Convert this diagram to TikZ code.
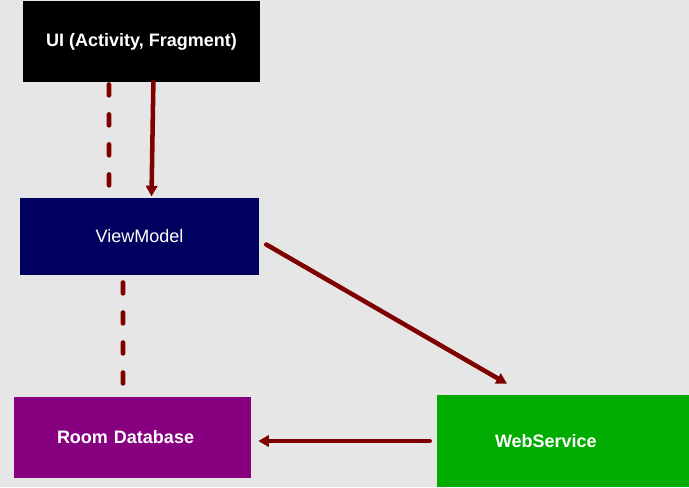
\documentclass[tikz,border=0pt]{standalone}
\usepackage{fontspec}
\setmainfont{Liberation Sans}
\usetikzlibrary{arrows.meta,calc}

\definecolor{bggray}{RGB}{230,230,230}
\definecolor{arrowred}{RGB}{128,0,0}
\definecolor{vmblue}{RGB}{0,0,94}
\definecolor{roompurple}{RGB}{134,0,128}
\definecolor{wsgreen}{RGB}{0,172,0}

\begin{document}
\begin{tikzpicture}[x=0.75pt,y=-0.75pt,
        >={Triangle[length=8pt,width=8.5pt]},
        box/.style={rectangle,text=white,font=\fontsize{13.5}{16}\selectfont},
        flow/.style={->,draw=arrowred,line width=3.4pt,line cap=round},
        link/.style={draw=arrowred,line width=3.6pt,line cap=round,
          dash pattern=on 8pt off 14.5pt}]

  \fill[bggray] (0,0) rectangle (689,487);
  \useasboundingbox (0,0) rectangle (689,487);

  \node[box,fill=black,minimum width=177.75pt,minimum height=60.75pt] (ui)
    at (141.5,41.5) {\textbf{UI (Activity, Fragment)}};
  \node[box,fill=vmblue,minimum width=179.25pt,minimum height=57.75pt] (vm)
    at (139.5,236.5) {ViewModel};
  \node[box,fill=roompurple,minimum width=177.75pt,minimum height=60.75pt,
    text width=113.25pt,align=left] (db)
    at (132.5,437.5) {\textbf{Room Database}};
  \node[box,fill=wsgreen,minimum width=189pt,minimum height=69pt,
    text width=102pt,align=left] (ws)
    at (563,441) {\textbf{WebService}};

  % UI -> ViewModel
  \path ($(ui.south west)!0.363!(ui.south east)$) edge[link,shorten <=1.7pt,shorten >=9pt]
          ($(vm.north west)!0.373!(vm.north east)$)
        ($(ui.south west)!0.55!(ui.south east)$) edge[flow,shorten >=1pt]
          ($(vm.north west)!0.55!(vm.north east)$);

  % ViewModel -> Room / WebService
  \path ($(vm.south west)!0.431!(vm.south east)$) edge[link,shorten <=5.5pt,shorten >=9.75pt]
          ($(db.north west)!0.46!(db.north east)$)
        ([shift={(7,8)}]vm.east) edge[flow] ([shift={(-56,-11)}]ws.north);

  % WebService -> Room
  \path (ws.west) edge[flow,shorten <=5.25pt,shorten >=5.25pt] (ws.west -| db.east);

\end{tikzpicture}
\end{document}
